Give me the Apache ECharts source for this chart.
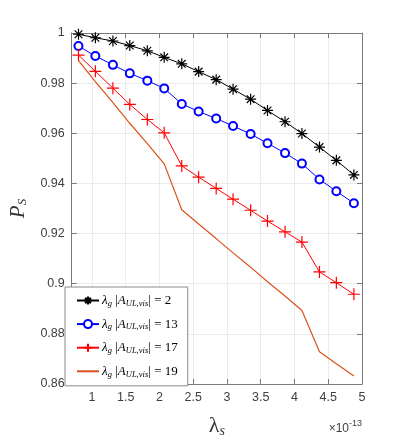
<!DOCTYPE html>
<html>
<head>
<meta charset="utf-8">
<script src="https://cdn.jsdelivr.net/npm/echarts@6/dist/echarts.min.js"></script>
<style>
  html, body { margin: 0; padding: 0; background: #fff; }
  #chart { width: 399px; height: 443px; }
</style>
</head>
<body>
<div id="chart"></div>
<script>
// x positions (units of 1e-13)
const xVals = [0.80, 1.05, 1.31, 1.56, 1.82, 2.07, 2.33, 2.58, 2.84, 3.09, 3.35, 3.60, 3.86, 4.11, 4.37, 4.62, 4.88]

// P_S values for each curve
const ps2 = [0.9995, 0.9981, 0.9968, 0.9950, 0.9929, 0.9903, 0.9877, 0.9846, 0.9814, 0.9776, 0.9736, 0.9691, 0.9646, 0.9599, 0.9545, 0.9492, 0.9434]
const ps13 = [0.9948, 0.9908, 0.9873, 0.9839, 0.9810, 0.9779, 0.9717, 0.9687, 0.9659, 0.9629, 0.9597, 0.9560, 0.9521, 0.9479, 0.9416, 0.9369, 0.9321]
const ps17 = [0.9912, 0.9847, 0.9780, 0.9715, 0.9655, 0.9602, 0.9470, 0.9425, 0.9380, 0.9337, 0.9293, 0.9250, 0.9207, 0.9166, 0.9047, 0.9004, 0.8958]
const ps19 = [0.9890, 0.9806, 0.9722, 0.9640, 0.9559, 0.9478, 0.9295, 0.9238, 0.9180, 0.9123, 0.9066, 0.9008, 0.8951, 0.8893, 0.8729, 0.8681, 0.8632]

const legendN = ['2', '13', '17', '19']

const yTicks = { min: 0.86, max: 1, interval: 0.02 }
const xRange = { min: 0.7, max: 5, step: 0.5 }

const STAR = 'path://M0,-1L0,1M-1,0L1,0M-0.7,-0.7L0.7,0.7M-0.7,0.7L0.7,-0.7'
const PLUS = 'path://M0,-1L0,1M-1,0L1,0'

const pairs = ys => xVals.map((x, i) => [x, ys[i]])

const serif = 'Liberation Serif'
const sans = 'Liberation Sans'
const axisGray = '#7a7a7a'
const labelGray = '#404040'

const chart = echarts.init(document.getElementById('chart'))

const legendRich = {
    l: { fontFamily: serif, fontStyle: 'italic', fontSize: 13, color: '#000' },
    s: { fontFamily: serif, fontStyle: 'italic', fontSize: 8.5, color: '#000', padding: [6, 0, 0, 0] },
    b: { fontFamily: serif, fontSize: 13, color: '#000' },
    a: { fontFamily: serif, fontStyle: 'italic', fontSize: 13, color: '#000' }
}

const baseX = {
    type: 'value',
    min: xRange.min,
    max: xRange.max,
    minInterval: xRange.step,
    maxInterval: xRange.step
}

const option = {
    animation: false,
    backgroundColor: '#fff',
    grid: { left: 55, right: 37, top: 33, bottom: 49 },
    legend: {
        orient: 'vertical',
        left: 65,
        top: 287,
        backgroundColor: '#fff',
        borderColor: '#8a8a8a',
        borderWidth: 1,
        padding: [7, 10, 7, 11],
        itemWidth: 22,
        itemHeight: 10,
        itemGap: 9.6,
        data: [
            { name: legendN[0] },
            { name: legendN[1] },
            { name: legendN[2] },
            { name: legendN[3], itemStyle: { opacity: 0 } }
        ],
        formatter: n => `{l|λ}{s|g} {b||}{a|A}{s|UL,vis}{b||} {b|= ${n}}`,
        textStyle: { rich: legendRich, padding: [0, 0, 0, -2] }
    },
    xAxis: [
        Object.assign({}, baseX, {
            position: 'bottom',
            name: '{l|λ}{s|s}',
            nameLocation: 'middle',
            nameGap: 30,
            nameTextStyle: {
                rich: {
                    l: { fontFamily: serif, fontSize: 22, color: '#333' },
                    s: { fontFamily: serif, fontStyle: 'italic', fontSize: 14, color: '#333', padding: [10, 0, 0, 0] }
                }
            },
            axisLine: { lineStyle: { color: axisGray, width: 1 } },
            axisTick: { inside: true, length: 5, lineStyle: { color: axisGray } },
            axisLabel: {
                showMinLabel: false,
                margin: 7,
                fontFamily: sans, fontSize: 12.5, color: labelGray,
                formatter: v => String(+v.toFixed(2))
            },
            splitLine: { show: true, lineStyle: { color: '#ebebeb', width: 1 } }
        }),
        Object.assign({}, baseX, {
            position: 'top',
            axisLine: { show: true, onZero: false, lineStyle: { color: axisGray, width: 1 } },
            axisTick: { show: true, inside: true, length: 5, lineStyle: { color: axisGray } },
            axisLabel: { show: false },
            splitLine: { show: false }
        })
    ],
    yAxis: [
        {
            type: 'value',
            min: yTicks.min,
            max: yTicks.max,
            interval: yTicks.interval,
            position: 'left',
            name: '{p|P}{s|S}',
            nameLocation: 'middle',
            nameGap: 42,
            nameTextStyle: {
                rich: {
                    p: { fontFamily: serif, fontStyle: 'italic', fontSize: 21, color: '#333' },
                    s: { fontFamily: serif, fontStyle: 'italic', fontSize: 13, color: '#333', padding: [9, 0, 0, 0] }
                }
            },
            axisLine: { show: true, onZero: false, lineStyle: { color: axisGray, width: 1 } },
            axisTick: { show: true, inside: true, length: 5, lineStyle: { color: axisGray } },
            axisLabel: {
                margin: 7,
                fontFamily: sans, fontSize: 12.5, color: labelGray,
                formatter: v => String(+v.toFixed(2))
            },
            splitLine: { show: true, lineStyle: { color: '#ebebeb', width: 1 } }
        },
        {
            type: 'value',
            min: yTicks.min,
            max: yTicks.max,
            interval: yTicks.interval,
            position: 'right',
            axisLine: { show: true, onZero: false, lineStyle: { color: axisGray, width: 1 } },
            axisTick: { show: true, inside: true, length: 5, lineStyle: { color: axisGray } },
            axisLabel: { show: false },
            splitLine: { show: false }
        }
    ],
    graphic: [{
        type: 'text',
        right: 37,
        top: 419,
        style: {
            text: '{a|×10}{b|-13}',
            rich: {
                a: { fontFamily: sans, fontSize: 12, fill: labelGray, padding: [5, 0, 0, 0] },
                b: { fontFamily: sans, fontSize: 9, fill: labelGray, padding: [0, 0, 5, 0] }
            }
        }
    }],
    series: [
        {
            name: legendN[0], type: 'line', data: pairs(ps2),
            symbol: STAR, symbolSize: 11,
            lineStyle: { color: '#000', width: 1 },
            itemStyle: { color: '#000', borderColor: '#000', borderWidth: 1.2 }
        },
        {
            name: legendN[1], type: 'line', data: pairs(ps13),
            symbol: 'emptyCircle', symbolSize: 8,
            lineStyle: { color: '#0000ff', width: 1 },
            itemStyle: { color: '#0000ff', borderColor: '#0000ff', borderWidth: 1.2 }
        },
        {
            name: legendN[2], type: 'line', data: pairs(ps17),
            symbol: PLUS, symbolSize: 12,
            lineStyle: { color: '#ff0000', width: 1 },
            itemStyle: { color: '#ff0000', borderColor: '#ff0000', borderWidth: 1.2 }
        },
        {
            name: legendN[3], type: 'line', data: pairs(ps19),
            symbol: 'none',
            lineStyle: { color: '#d95319', width: 1.2 },
            itemStyle: { color: '#d95319' }
        }
    ]
}

chart.setOption(option)
</script>
</body>
</html>
